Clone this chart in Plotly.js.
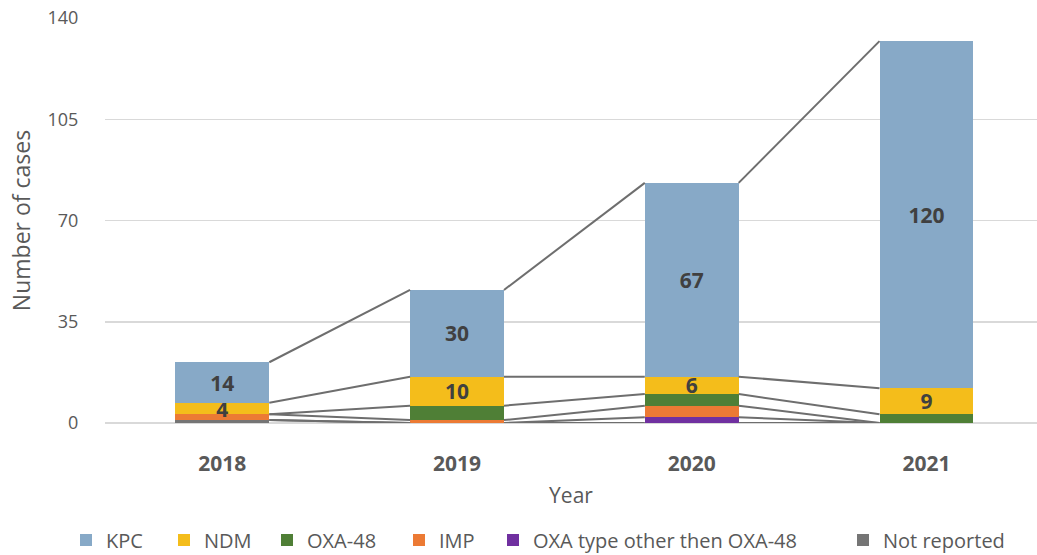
<!DOCTYPE html>
<html>
<head>
<meta charset="utf-8">
<script src="https://cdn.plot.ly/plotly-3.0.1.min.js"></script>
<style>html,body{margin:0;padding:0;background:#fff;}#chart{width:1037px;height:555px;}</style>
</head>
<body>
<div id="chart"></div>
<script>
var years = ['2018', '2019', '2020', '2021'];
var kpc = [14, 30, 67, 120];
var ndm = [4, 10, 6, 9];
var oxa48 = [0, 5, 4, 3];
var imp = [2, 1, 4, 0];
var oxaOther = [0, 0, 2, 0];
var notReported = [1, 0, 0, 0];
var yTicks = [0, 35, 70, 105, 140];

var labelFont = {family: 'Open Sans, sans-serif', size: 21, color: '#404040', weight: 'bold'};

// bottom to top stacking order; legend slot positions (px from left of page)
var series = [
  {name: 'Not reported', y: notReported, color: '#757575', label: false, legend: 'legend6', lx: 843},
  {name: 'OXA type other then OXA-48', y: oxaOther, color: '#7030A0', label: false, legend: 'legend5', lx: 493},
  {name: 'IMP', y: imp, color: '#EC7A34', label: false, legend: 'legend4', lx: 399},
  {name: 'OXA-48', y: oxa48, color: '#4F7F36', label: false, legend: 'legend3', lx: 267},
  {name: 'NDM', y: ndm, color: '#F4BD1B', label: true, legend: 'legend2', lx: 164},
  {name: 'KPC', y: kpc, color: '#87A9C7', label: true, legend: 'legend', lx: 66}
];

var traces = [];
var cum = years.map(function(){return 0;});
var lineX = [], lineY = [];
var half = 0.2;
var layoutLegends = {};
series.forEach(function(s){
  var t = {
    type: 'bar', name: s.name, x: [0,1,2,3], y: s.y,
    marker: {color: s.color, line: {width: 0}},
    hoverinfo: 'name+y', legend: s.legend, showlegend: true
  };
  if (s.label) {
    t.text = s.y.map(String);
    t.textposition = 'inside';
    t.insidetextanchor = 'middle';
    t.textangle = 0;
    t.constraintext = 'none';
    t.insidetextfont = labelFont;
    t.textfont = labelFont;
  } else {
    t.textposition = 'none';
  }
  traces.push(t);
  layoutLegends[s.legend] = {
    xref: 'container', yref: 'container',
    x: s.lx / 1037, xanchor: 'left',
    y: 1 - 540 / 555, yanchor: 'middle',
    orientation: 'h',
    font: {size: 20, color: '#595959', family: 'Open Sans, sans-serif'},
    itemwidth: 30, bgcolor: 'rgba(0,0,0,0)'
  };
  cum = cum.map(function(c, i){return c + s.y[i];});
  for (var i = 0; i < years.length - 1; i++) {
    lineX.push(i + half, i + 1 - half, null);
    lineY.push(cum[i], cum[i+1], null);
  }
});

traces.unshift({
  type: 'scatter', mode: 'lines', x: lineX, y: lineY,
  line: {color: '#6E6E6E', width: 2}, showlegend: false, hoverinfo: 'skip'
});

var layout = {
  width: 1037, height: 555,
  margin: {l: 105, r: 0, t: 18, b: 132},
  barmode: 'stack', bargap: 0.6,
  paper_bgcolor: '#fff', plot_bgcolor: '#fff',
  font: {family: 'Open Sans, sans-serif', color: '#595959'},
  xaxis: {
    range: [-0.5, 3.471],
    tickvals: [0,1,2,3], ticktext: years,
    tickfont: {size: 21, color: '#595959', weight: 'bold'},
    ticks: 'outside', ticklen: 22, tickcolor: 'rgba(0,0,0,0)',
    showgrid: false, zeroline: false, showline: false,
    title: {text: 'Year', font: {size: 21, color: '#595959'}, standoff: 12}
  },
  yaxis: {
    range: [0, 140],
    tickvals: yTicks,
    tickfont: {size: 18, color: '#595959'},
    ticks: 'outside', ticklen: 22, tickcolor: 'rgba(0,0,0,0)',
    gridcolor: '#D9D9D9', gridwidth: 1.5,
    zeroline: true, zerolinecolor: '#D9D9D9', zerolinewidth: 1.5,
    showline: false,
    title: {text: 'Number of cases', font: {size: 23, color: '#595959'}, standoff: 10}
  },
  showlegend: true
};
Object.keys(layoutLegends).forEach(function(k){ layout[k] = layoutLegends[k]; });

Plotly.newPlot('chart', traces, layout, {displayModeBar: false, staticPlot: true});
</script>
</body>
</html>
